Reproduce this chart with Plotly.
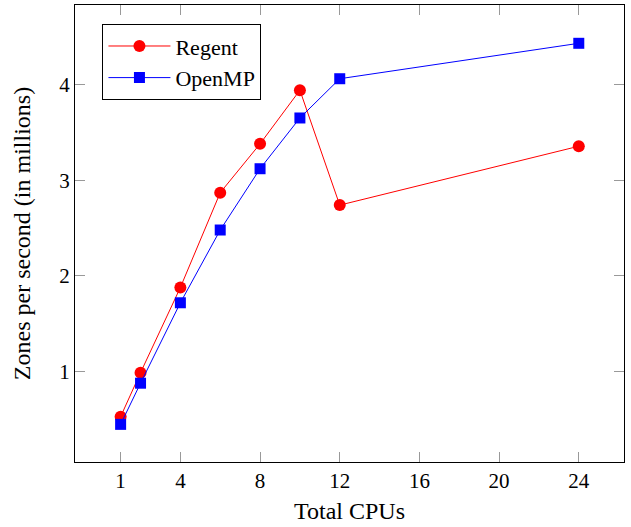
import plotly.graph_objects as go

cpus = [1, 2, 4, 6, 8, 10, 12, 24]
regent = [0.53, 0.99, 1.88, 2.87, 3.38, 3.94, 2.74, 3.355]
openmp = [0.45, 0.88, 1.72, 2.48, 3.12, 3.65, 4.06, 4.43]
xticks = [1, 4, 8, 12, 16, 20, 24]
yticks = [1, 2, 3, 4]

FONT = "Liberation Serif"

fig = go.Figure()
fig.add_trace(go.Scatter(x=cpus, y=regent, name="Regent", mode="lines+markers",
                         line=dict(color="#ff0000", width=1),
                         marker=dict(symbol="circle", size=12, color="#ff0000")))
fig.add_trace(go.Scatter(x=cpus, y=openmp, name="OpenMP", mode="lines+markers",
                         line=dict(color="#0000ff", width=1),
                         marker=dict(symbol="square", size=11, color="#0000ff")))

axis_common = dict(showline=True, linecolor="black", linewidth=1, mirror="allticks",
                   ticks="inside", ticklen=10, tickcolor="#999999", tickwidth=1,
                   showgrid=False, zeroline=False, automargin=False,
                   tickfont=dict(family=FONT, size=21, color="black"))

fig.update_xaxes(range=[-1.29, 26.27], tickvals=xticks, ticktext=[str(v) for v in xticks],
                 title=dict(text="Total CPUs", font=dict(family=FONT, size=24, color="black"), standoff=9),
                 **axis_common)
fig.update_yaxes(range=[0.057, 4.83], tickvals=yticks, ticktext=[str(v) for v in yticks],
                 title=dict(text="Zones per second (in millions)", font=dict(family=FONT, size=24, color="black"), standoff=21),
                 **axis_common)

fig.update_layout(
    width=631, height=527,
    margin=dict(l=75, r=7, t=5, b=65),
    plot_bgcolor="white", paper_bgcolor="white",
    font=dict(family=FONT, size=21, color="black"),
    legend=dict(x=0.05, y=0.958, xanchor="left", yanchor="top",
                bordercolor="black", borderwidth=1, bgcolor="white",
                font=dict(family=FONT, size=22, color="black"),
                itemwidth=62, tracegroupgap=0),
)

fig.write_html("out.html", config={"displayModeBar": False},
               post_script="document.body.style.margin='0';")
